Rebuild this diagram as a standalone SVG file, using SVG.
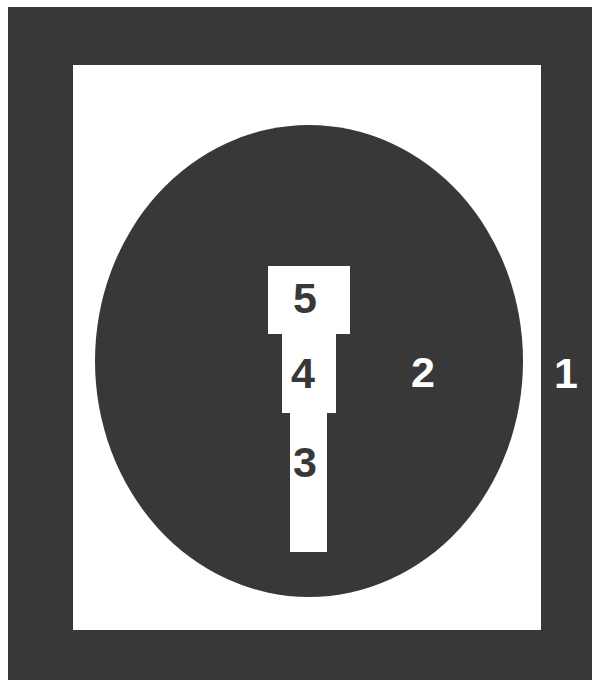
<svg xmlns="http://www.w3.org/2000/svg" width="592" height="682" viewBox="0 0 592 682">
<style>
.dark{fill:#383838}
.light{fill:#ffffff}
.lbl{font-family:"Liberation Sans",Arial,sans-serif;font-weight:bold;font-size:43px;text-anchor:middle}
.ld{fill:#383838}
.lw{fill:#ffffff}
</style>
<rect x="0" y="0" width="592" height="682" fill="#ffffff"/>
<g id="region1">
<path class="dark" fill-rule="evenodd" d="M8 7H592V680H8Z M73 65V630H541V65Z"/>
<text class="lbl lw" x="566" y="388">1</text>
</g>
<g id="region-inner">
<rect class="light" x="73" y="65" width="468" height="565"/>
</g>
<g id="region2">
<ellipse class="dark" cx="309" cy="361" rx="214" ry="236"/>
<text class="lbl lw" x="423" y="387">2</text>
</g>
<g id="region5">
<rect class="light" x="268" y="266" width="82" height="68"/>
<text class="lbl ld" x="305" y="313">5</text>
</g>
<g id="region4">
<rect class="light" x="282" y="333" width="54" height="80"/>
<text class="lbl ld" x="303" y="388">4</text>
</g>
<g id="region3">
<rect class="light" x="290" y="412" width="37" height="140"/>
<text class="lbl ld" x="305" y="477">3</text>
</g>
</svg>
